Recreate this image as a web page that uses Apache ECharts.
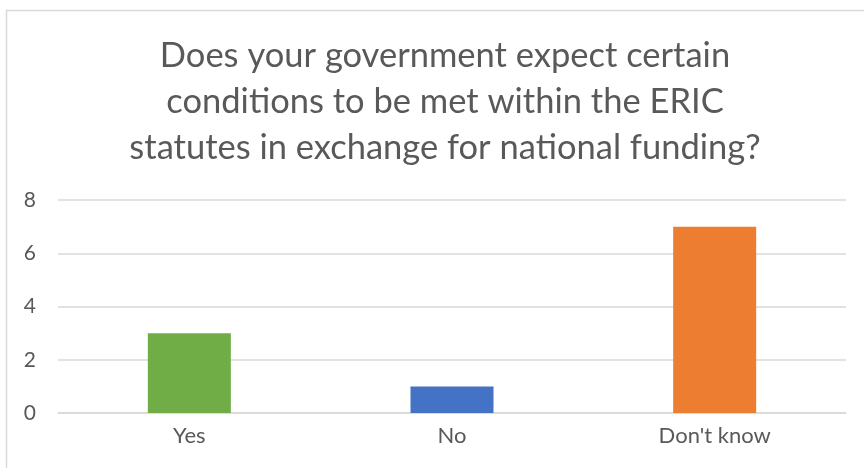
<!DOCTYPE html>
<html>
<head>
<meta charset="utf-8">
<style>
  html, body { margin: 0; padding: 0; background: #ffffff; }
  #chart { width: 864px; height: 468px; }
</style>
<script src="https://cdn.jsdelivr.net/npm/echarts@6/dist/echarts.min.js"></script>
</head>
<body>
<div id="chart"></div>
<script>
// Survey answers and respondent counts
const categories = ["Yes", "No", "Don't know"];
const counts = [3, 1, 7];
const barColors = ["#70AD47", "#4472C4", "#ED7D31"];
const yTicks = { min: 0, max: 8, interval: 2 };
const titleText = "Does your government expect certain\nconditions to be met within the ERIC\nstatutes in exchange for national funding?";

const textColor = "#595959";
const fontFamily = "Lato, 'Open Sans', sans-serif";

const chart = echarts.init(document.getElementById('chart'), null, { renderer: 'canvas' });

chart.setOption({
  backgroundColor: '#ffffff',
  animation: false,
  graphic: [{
    type: 'rect',
    shape: { x: 6.5, y: 10.5, width: 900, height: 500 },
    style: { fill: 'none', stroke: '#d9d9d9', lineWidth: 1.5 },
    silent: true
  }],
  title: {
    text: titleText,
    left: 440,
    textAlign: 'center',
    top: 28,
    textStyle: {
      color: textColor,
      fontFamily: fontFamily,
      fontWeight: 'normal',
      fontSize: 34.5,
      lineHeight: 46
    }
  },
  grid: { left: 58, right: 18, top: 200, bottom: 55, containLabel: false },
  xAxis: {
    type: 'category',
    data: categories,
    axisLine: { show: true, lineStyle: { color: '#d9d9d9', width: 1.5 } },
    axisTick: { show: false },
    axisLabel: { color: textColor, fontFamily: fontFamily, fontSize: 22, margin: 12 }
  },
  yAxis: {
    type: 'value',
    min: yTicks.min,
    max: yTicks.max,
    interval: yTicks.interval,
    axisLine: { show: false },
    axisTick: { show: false },
    axisLabel: { color: textColor, fontFamily: fontFamily, fontSize: 21, margin: 22 },
    splitLine: { lineStyle: { color: '#d9d9d9', width: 1.5 } }
  },
  series: [{
    type: 'bar',
    data: counts.map((v, i) => ({ value: v, itemStyle: { color: barColors[i] } })),
    barWidth: '31.6%'
  }]
});
</script>
</body>
</html>
